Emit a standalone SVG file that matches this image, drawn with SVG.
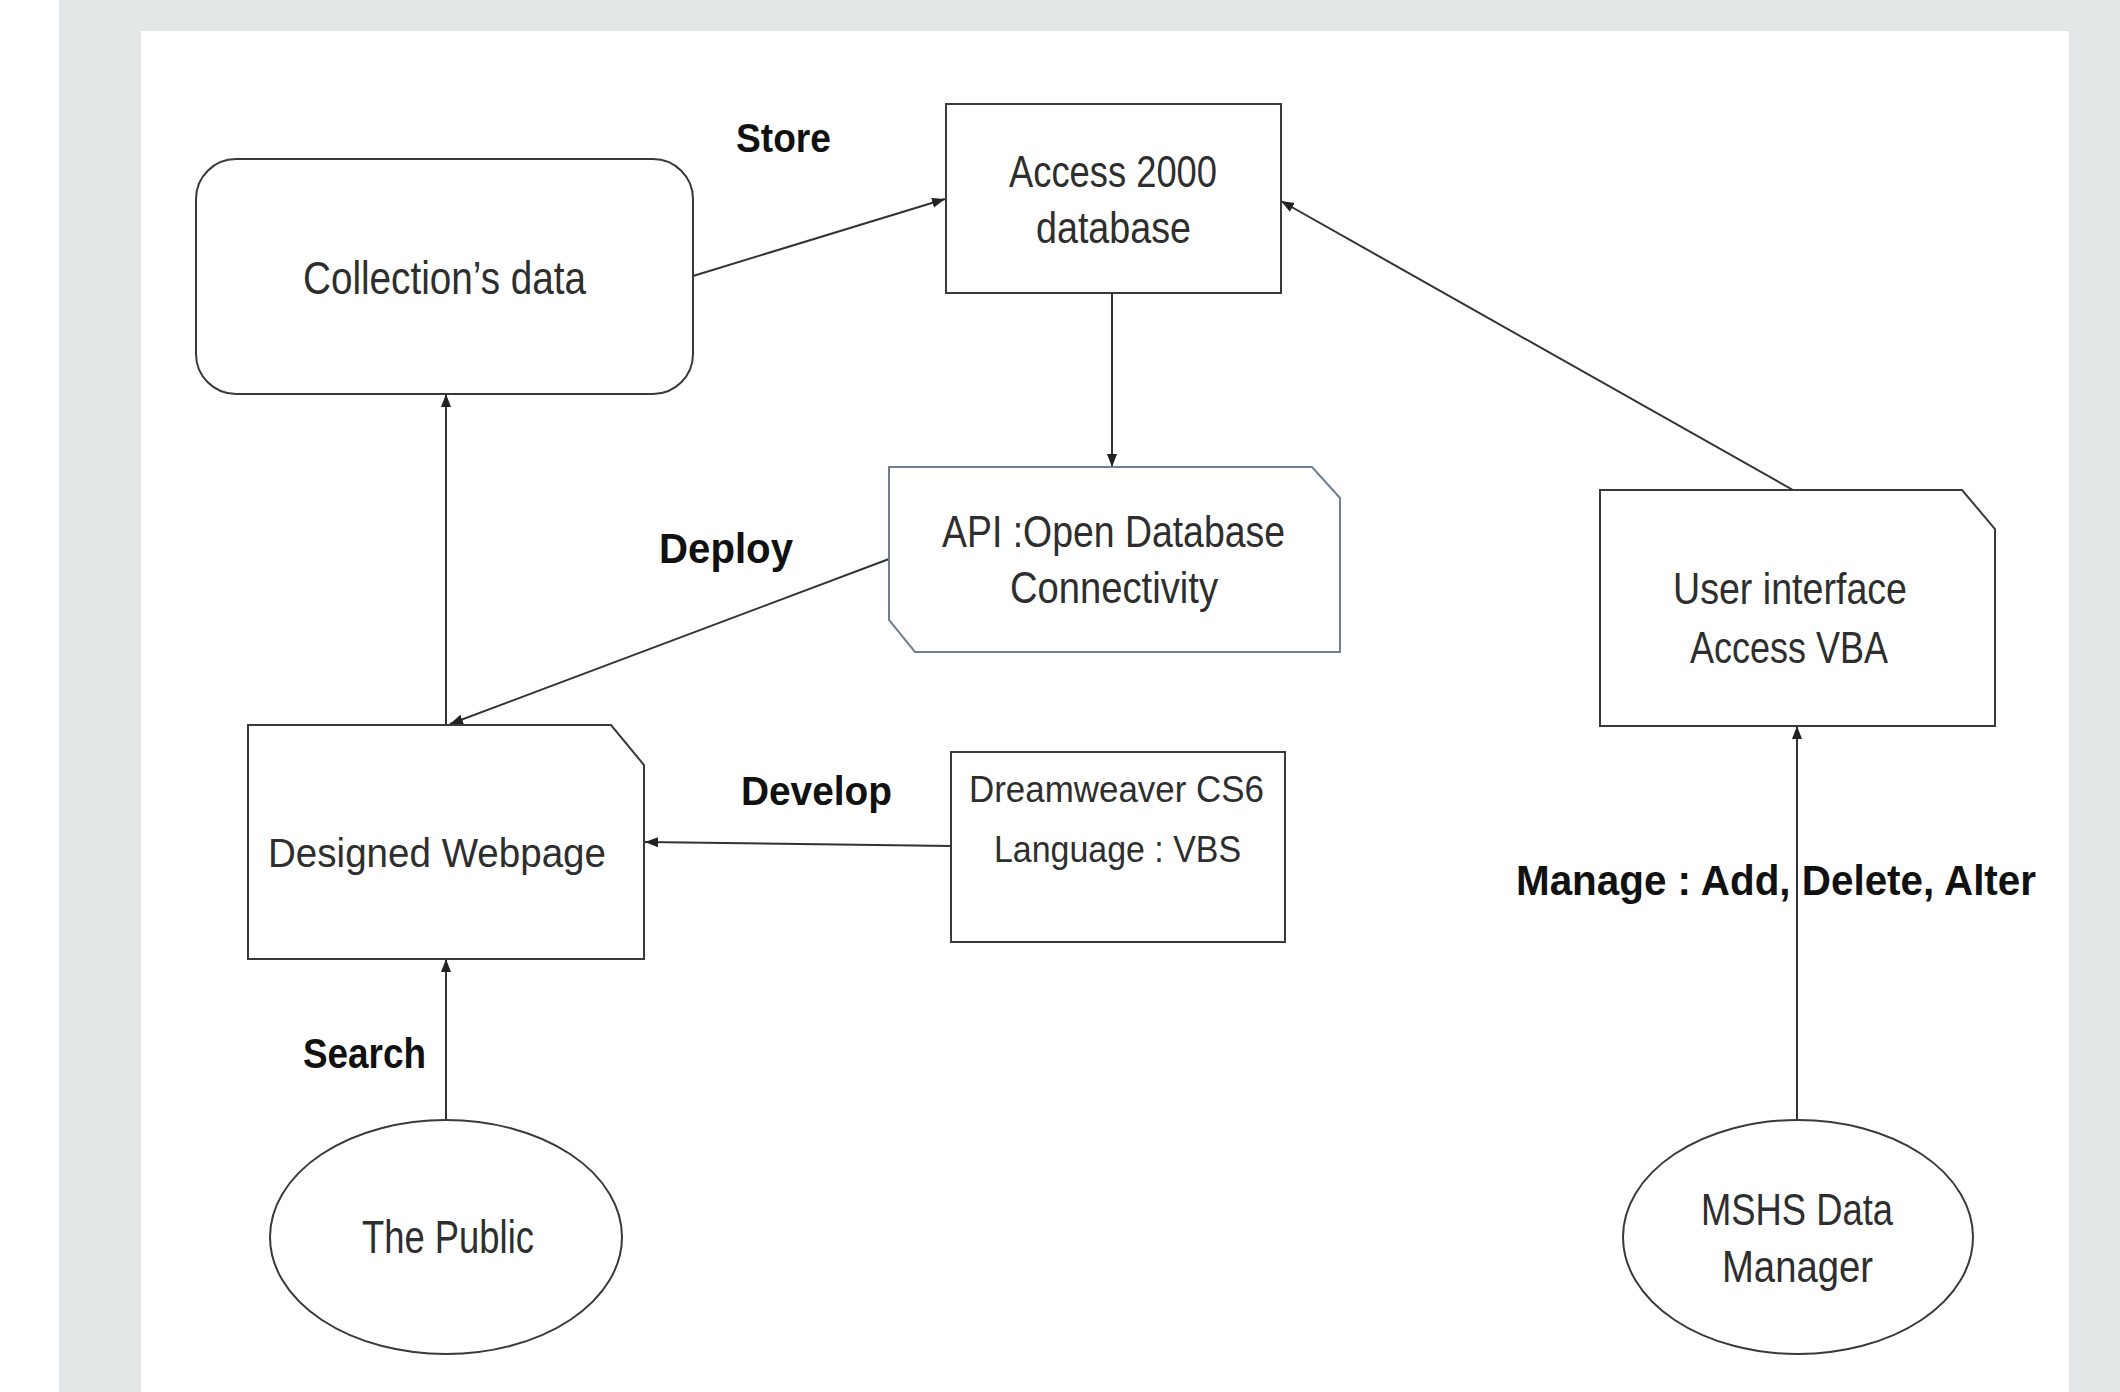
<svg xmlns="http://www.w3.org/2000/svg" width="2120" height="1392" viewBox="0 0 2120 1392">
  <style>
    .shape { fill: #ffffff; stroke: #3a3a3a; stroke-width: 2; }
    .api { fill: #ffffff; stroke: #6f7e92; stroke-width: 2; }
    .txt { font-family: "Liberation Sans", Arial, sans-serif; fill: #2e2e2e; lengthAdjust: spacingAndGlyphs; }
    .lbl { font-family: "Liberation Sans", Arial, sans-serif; font-weight: bold; fill: #111111; }
    .conn { stroke: #333333; stroke-width: 2; fill: none; marker-end: url(#arrow); }
  </style>
  <defs>
    <marker id="arrow" markerUnits="userSpaceOnUse" markerWidth="14" markerHeight="12" refX="13" refY="6" orient="auto">
      <path d="M0,1 L13,6 L0,11 z" fill="#222222"/>
    </marker>
  </defs>

  <!-- page background -->
  <rect x="0" y="0" width="2120" height="1392" fill="#ffffff"/>
  <rect x="59" y="0" width="2061" height="1392" fill="#e3e7e8"/>
  <rect x="141" y="31" width="1928" height="1361" fill="#ffffff"/>

  <g id="connectors">
    <line class="conn" x1="693" y1="276" x2="945" y2="199"/>
    <line class="conn" x1="1112" y1="293" x2="1112" y2="467"/>
    <line class="conn" x1="889" y1="559" x2="450" y2="724"/>
    <line class="conn" x1="446" y1="725" x2="446" y2="394"/>
    <line class="conn" x1="951" y1="846" x2="645" y2="842"/>
    <line class="conn" x1="446" y1="1119" x2="446" y2="959"/>
    <line class="conn" x1="1793" y1="490" x2="1281" y2="201"/>
    <line class="conn" x1="1797" y1="1119" x2="1797" y2="726"/>
  </g>

  <g id="labels">
    <text class="lbl" x="736" y="152" font-size="40" textLength="95" lengthAdjust="spacingAndGlyphs">Store</text>
    <text class="lbl" x="659" y="563" font-size="42" textLength="134" lengthAdjust="spacingAndGlyphs">Deploy</text>
    <text class="lbl" x="741" y="805" font-size="40" textLength="151" lengthAdjust="spacingAndGlyphs">Develop</text>
    <text class="lbl" x="303" y="1068" font-size="42" textLength="123" lengthAdjust="spacingAndGlyphs">Search</text>
    <text class="lbl" x="1516" y="895" font-size="42" textLength="520" lengthAdjust="spacingAndGlyphs">Manage : Add, Delete, Alter</text>
  </g>

  <g id="node-collection">
    <rect class="shape" x="196" y="159" width="497" height="235" rx="40" ry="40"/>
    <text class="txt" x="303" y="294" font-size="46" textLength="283" lengthAdjust="spacingAndGlyphs">Collection’s data</text>
  </g>

  <g id="node-access">
    <rect class="shape" x="946" y="104" width="335" height="189"/>
    <text class="txt" x="1009" y="187" font-size="44" textLength="208" lengthAdjust="spacingAndGlyphs">Access 2000</text>
    <text class="txt" x="1036" y="243" font-size="44" textLength="155" lengthAdjust="spacingAndGlyphs">database</text>
  </g>

  <g id="node-api">
    <polygon class="api" points="889,467 1312,467 1340,498 1340,652 915,652 889,620"/>
    <text class="txt" x="942" y="547" font-size="44" textLength="343" lengthAdjust="spacingAndGlyphs">API :Open Database</text>
    <text class="txt" x="1010" y="603" font-size="44" textLength="208" lengthAdjust="spacingAndGlyphs">Connectivity</text>
  </g>

  <g id="node-webpage">
    <polygon class="shape" points="248,725 611,725 644,765 644,959 248,959"/>
    <text class="txt" x="268" y="867" font-size="40" textLength="338" lengthAdjust="spacingAndGlyphs">Designed Webpage</text>
  </g>

  <g id="node-dreamweaver">
    <rect class="shape" x="951" y="752" width="334" height="190"/>
    <text class="txt" x="969" y="802" font-size="36" textLength="295" lengthAdjust="spacingAndGlyphs">Dreamweaver CS6</text>
    <text class="txt" x="994" y="862" font-size="36" textLength="247" lengthAdjust="spacingAndGlyphs">Language : VBS</text>
  </g>

  <g id="node-ui">
    <polygon class="shape" points="1600,490 1962,490 1995,529 1995,726 1600,726"/>
    <text class="txt" x="1673" y="604" font-size="44" textLength="234" lengthAdjust="spacingAndGlyphs">User interface</text>
    <text class="txt" x="1690" y="663" font-size="44" textLength="198" lengthAdjust="spacingAndGlyphs">Access VBA</text>
  </g>

  <g id="node-public">
    <ellipse class="shape" cx="446" cy="1237" rx="176" ry="117"/>
    <text class="txt" x="362" y="1253" font-size="46" textLength="172" lengthAdjust="spacingAndGlyphs">The Public</text>
  </g>

  <g id="node-manager">
    <ellipse class="shape" cx="1798" cy="1237" rx="175" ry="117"/>
    <text class="txt" x="1701" y="1225" font-size="44" textLength="192" lengthAdjust="spacingAndGlyphs">MSHS Data</text>
    <text class="txt" x="1722" y="1282" font-size="44" textLength="151" lengthAdjust="spacingAndGlyphs">Manager</text>
  </g>
</svg>
